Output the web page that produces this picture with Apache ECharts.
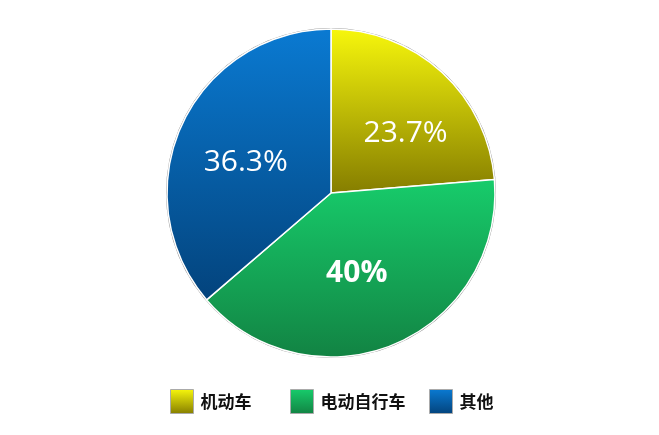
<!DOCTYPE html>
<html><head><meta charset="utf-8">
<script src="https://cdn.jsdelivr.net/npm/echarts@6/dist/echarts.min.js"></script>
<style>html,body{margin:0;padding:0;background:#fff}#c{width:659px;height:435px}</style>
</head><body><div id="c"></div>
<script>
const categories = ['机动车', '电动自行车', '其他'];
const values = [23.7, 40, 36.3];
const labelText = ['23.7%', '40%', '36.3%'];

// styling (not data)
const boldLabel = [false, true, false];
const labelOffsets = [[17, 3], [-7, 2], [-8, 5]];
const legendLefts = [170, 290, 429];
const gradients = [['#f7f70c', '#857d00'], ['#17cc6b', '#128343'], ['#0a7ad2', '#03437c']];

function grad(c) {
  return new echarts.graphic.LinearGradient(0, 0, 0, 1, [{offset: 0, color: c[0]}, {offset: 1, color: c[1]}]);
}
const chart = echarts.init(document.getElementById('c'));
chart.setOption({
  animation: false,
  legend: categories.map((n, i) => ({
    top: 389, left: legendLefts[i], itemWidth: 23, itemHeight: 24, padding: 0,
    icon: 'rect',
    textStyle: {fontSize: 17, color: '#111', fontFamily: 'Noto Sans CJK SC', fontWeight: 'bold', padding: [0, 0, 0, 2]},
    data: [{name: n, itemStyle: {color: grad(gradients[i]), borderColor: '#aaa', borderWidth: 1}}]
  })),
  series: [{
    type: 'pie', silent: true, center: [331, 193], radius: [164, 165],
    label: {show: false}, labelLine: {show: false},
    data: [{value: 1, itemStyle: {color: '#8a8a8a'}}]
  }, {
    type: 'pie', center: [331, 193], radius: 164, startAngle: 90, clockwise: true,
    label: {position: 'inside', color: '#fff', fontFamily: 'Open Sans', fontSize: 30},
    labelLine: {show: false},
    itemStyle: {borderColor: '#fff', borderWidth: 1.5},
    data: categories.map((n, i) => ({
      name: n, value: values[i],
      itemStyle: {color: grad(gradients[i])},
      label: {formatter: labelText[i], fontWeight: boldLabel[i] ? 'bold' : 'normal', offset: labelOffsets[i]}
    }))
  }]
});
</script></body></html>
